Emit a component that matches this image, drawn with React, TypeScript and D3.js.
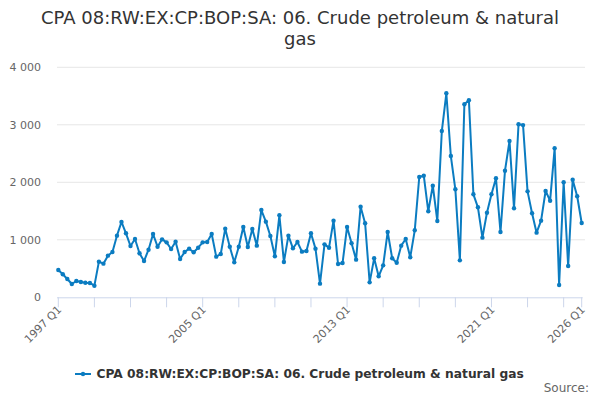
import React, { useEffect, useRef } from "react";
import * as d3 from "d3";

const title = ["CPA 08:RW:EX:CP:BOP:SA: 06. Crude petroleum & natural", "gas"];
const seriesName = "CPA 08:RW:EX:CP:BOP:SA: 06. Crude petroleum & natural gas";

// quarterly values, 1997 Q1 .. 2026 Q1
const values: number[] = [
  475, 400, 318, 231, // 1997
  283, 266, 254, 249, // 1998
  202, 620, 585, 724, // 1999
  788, 1072, 1310, 1113, // 2000
  892, 1014, 765, 631, // 2001
  828, 1101, 880, 1008, // 2002
  956, 840, 967, 666, // 2003
  788, 846, 783, 863, // 2004
  956, 962, 1101, 707, // 2005
  753, 1194, 880, 608, // 2006
  880, 1223, 875, 1188, // 2007
  898, 1518, 1316, 1066, // 2008
  713, 1426, 614, 1072, // 2009
  852, 962, 794, 805, // 2010
  1113, 846, 237, 921, // 2011
  863, 1333, 579, 597, // 2012
  1223, 939, 655, 1576, // 2013
  1287, 260, 678, 365, // 2014
  556, 1136, 678, 602, // 2015
  898, 1014, 696, 1165, // 2016
  2092, 2115, 1496, 1941, // 2017
  1327, 2892, 3548, 2457, // 2018
  1878, 643, 3357, 3426, // 2019
  1791, 1565, 1037, 1471, // 2020
  1791, 2070, 1136, 2202, // 2021
  2718, 1548, 3009, 2995, // 2022
  1843, 1461, 1124, 1333, // 2023
  1849, 1680, 2591, 214, // 2024
  2000, 544, 2045, 1757, // 2025
  1292, // 2026
];

const quarters: string[] = values.map(
  (_, i) => `${1997 + Math.floor(i / 4)} Q${(i % 4) + 1}`
);

const yTicks = [0, 1000, 2000, 3000, 4000];
const xTickLabels = ["1997 Q1", "2005 Q1", "2013 Q1", "2021 Q1", "2026 Q1"];

const lineColor = "#0b7cc1";
const font = "'DejaVu Sans', Verdana, sans-serif";

const App: React.FC = () => {
  const svgRef = useRef<SVGSVGElement | null>(null);

  useEffect(() => {
    const svg = d3.select(svgRef.current);
    svg.selectAll("*").remove();

    const width = 600;
    const height = 400;
    const margin = { top: 67.3, right: 18.3, bottom: 102.7, left: 58.3 };

    const x = d3
      .scaleLinear()
      .domain([0, values.length - 1])
      .range([margin.left, width - margin.right]);

    const y = d3
      .scaleLinear()
      .domain([0, 4000])
      .range([height - margin.bottom, margin.top]);

    // title
    svg
      .append("g")
      .selectAll("text")
      .data(title)
      .join("text")
      .attr("x", width / 2)
      .attr("y", (_, i) => 24 + i * 21)
      .attr("text-anchor", "middle")
      .attr("fill", "#333333")
      .style("font-size", "18px")
      .style("font-family", font)
      .text((d) => d);

    // gridlines + y labels
    const yAxis = svg.append("g");
    yAxis
      .selectAll("line")
      .data(yTicks.filter((t) => t > 0))
      .join("line")
      .attr("x1", 57)
      .attr("x2", 585)
      .attr("y1", (d) => y(d))
      .attr("y2", (d) => y(d))
      .attr("stroke", "#e6e6e6")
      .attr("stroke-width", 1);
    yAxis
      .selectAll("text")
      .data(yTicks)
      .join("text")
      .attr("x", 41)
      .attr("y", (d) => y(d) + 4)
      .attr("text-anchor", "end")
      .attr("fill", "#666666")
      .style("font-size", "11px")
      .style("font-family", font)
      .text((d) => d3.format(",")(d).replace(/,/g, " "));

    // x axis
    const tickIdx = d3.range(0, values.length, 8).concat([values.length - 1]);
    const xAxis = svg.append("g");
    xAxis
      .append("line")
      .attr("x1", 57)
      .attr("x2", x(values.length - 1) + 1)
      .attr("y1", y(0) + 0.5)
      .attr("y2", y(0) + 0.5)
      .attr("stroke", "#ccd6eb");
    xAxis
      .selectAll("line.tick")
      .data(tickIdx)
      .join("line")
      .attr("class", "tick")
      .attr("x1", (d) => x(d))
      .attr("x2", (d) => x(d))
      .attr("y1", y(0))
      .attr("y2", y(0) + 10)
      .attr("stroke", "#ccd6eb");
    xAxis
      .selectAll("text")
      .data(xTickLabels)
      .join("text")
      .attr(
        "transform",
        (d) => `translate(${x(quarters.indexOf(d)) + 4},${y(0) + 13}) rotate(-45)`
      )
      .attr("text-anchor", "end")
      .attr("fill", "#666666")
      .style("font-size", "11px")
      .style("font-family", font)
      .text((d) => d);

    // series
    const line = d3
      .line<number>()
      .x((_, i) => x(i))
      .y((d) => y(d));
    svg
      .append("path")
      .datum(values)
      .attr("d", line)
      .attr("fill", "none")
      .attr("stroke", lineColor)
      .attr("stroke-width", 2)
      .attr("stroke-linejoin", "round");
    svg
      .append("g")
      .selectAll("circle")
      .data(values)
      .join("circle")
      .attr("cx", (_, i) => x(i))
      .attr("cy", (d) => y(d))
      .attr("r", 2.2)
      .attr("fill", lineColor);

    // legend
    const legend = svg.append("g").attr("transform", "translate(75,374)");
    legend
      .append("line")
      .attr("x1", 0)
      .attr("x2", 16)
      .attr("y1", 0)
      .attr("y2", 0)
      .attr("stroke", lineColor)
      .attr("stroke-width", 2);
    legend
      .append("circle")
      .attr("cx", 8)
      .attr("cy", 0)
      .attr("r", 2.2)
      .attr("fill", lineColor);
    legend
      .append("text")
      .attr("x", 21.5)
      .attr("y", 4)
      .attr("fill", "#333333")
      .style("font-size", "12.25px")
      .style("font-weight", "bold")
      .style("font-family", font)
      .text(seriesName);

    // credits
    svg
      .append("text")
      .attr("x", 589)
      .attr("y", 392)
      .attr("text-anchor", "end")
      .attr("fill", "#666666")
      .style("font-size", "12px")
      .style("font-family", font)
      .text("Source:");

    svg.attr("width", width).attr("height", height);
  }, []);

  return (
    <div style={{ position: "absolute", left: 0, top: 0, width: 600, height: 400, background: "#fff" }}>
      <svg ref={svgRef}></svg>
    </div>
  );
};

export default App;
